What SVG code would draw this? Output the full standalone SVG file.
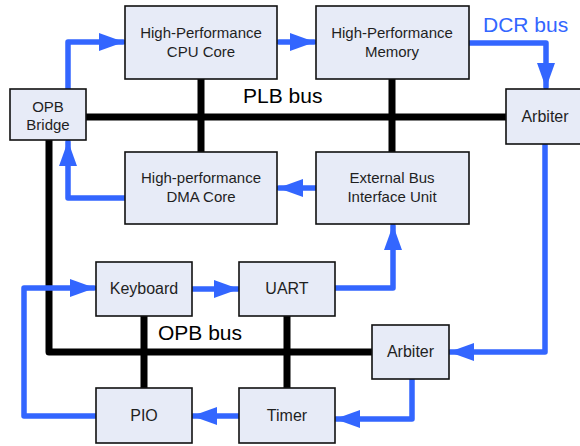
<svg xmlns="http://www.w3.org/2000/svg" width="580" height="446" viewBox="0 0 580 446">
<defs>
<style>
.box{fill:#E7EBF7;stroke:#111;stroke-width:1.6}
.lbl{font-family:"Liberation Sans",Arial,sans-serif;font-size:15px;fill:#1f1f1f;text-anchor:middle}
.one{font-size:16px}
.bus{stroke:#000;stroke-width:7;fill:none;stroke-linecap:round;stroke-linejoin:round}
.ar{stroke:#3366FF;stroke-width:5.5;fill:none;stroke-linejoin:round;stroke-linecap:round}
.big{font-family:"Liberation Sans",Arial,sans-serif;font-size:21px}
</style>
<marker id="ah" viewBox="0 0 25 18" refX="24" refY="9" markerWidth="25" markerHeight="18" markerUnits="userSpaceOnUse" orient="auto">
<path d="M0,0 L25,9 L0,18 Z" fill="#3366FF"/>
</marker>
</defs>
<g id="connectors">
<polyline class="bus" points="49,140 49,352 372,352"/>
<line class="bus" x1="85" y1="117" x2="507" y2="117"/>
<line class="bus" x1="201" y1="79" x2="201" y2="153"/>
<line class="bus" x1="392" y1="79" x2="392" y2="153"/>
<line class="bus" x1="144" y1="316" x2="144" y2="388"/>
<line class="bus" x1="287" y1="316" x2="287" y2="388"/>
<polyline class="ar" points="68,91 68,42 123,42" marker-end="url(#ah)"/>
<polyline class="ar" points="279,42 314,42" marker-end="url(#ah)"/>
<polyline class="ar" points="467,43 546,43 546,87" marker-end="url(#ah)"/>
<polyline class="ar" points="316,188 279,188" marker-end="url(#ah)"/>
<polyline class="ar" points="127,198 68,198 68,142" marker-end="url(#ah)"/>
<polyline class="ar" points="545,145 545,352 450,352" marker-end="url(#ah)"/>
<polyline class="ar" points="412,380 412,419 336,419" marker-end="url(#ah)"/>
<polyline class="ar" points="239,416 193,416" marker-end="url(#ah)"/>
<polyline class="ar" points="96,416 24,416 24,288 94,288" marker-end="url(#ah)"/>
<polyline class="ar" points="190,289 238,289" marker-end="url(#ah)"/>
<polyline class="ar" points="333,288 393,288 393,226" marker-end="url(#ah)"/>
</g>
<g id="cpu"><rect class="box" x="125" y="6" width="152" height="73"/><text class="lbl" x="201" y="38">High-Performance</text><text class="lbl" x="201" y="57">CPU Core</text></g>
<g id="memory"><rect class="box" x="316" y="6" width="153" height="73"/><text class="lbl" x="392" y="38">High-Performance</text><text class="lbl" x="392" y="57">Memory</text></g>
<g id="bridge"><rect class="box" x="10" y="89" width="76" height="51"/><text class="lbl" x="48" y="112">OPB</text><text class="lbl" x="48" y="130">Bridge</text></g>
<g id="dma"><rect class="box" x="125" y="152" width="152" height="72"/><text class="lbl" x="201" y="183">High-performance</text><text class="lbl" x="201" y="202">DMA Core</text></g>
<g id="ebiu"><rect class="box" x="316" y="152" width="153" height="72"/><text class="lbl" x="392" y="183">External Bus</text><text class="lbl" x="392" y="202">Interface Unit</text></g>
<g id="plb-arbiter"><rect class="box" x="506" y="89" width="80" height="55"/><text class="lbl one" x="545" y="122">Arbiter</text></g>
<g id="keyboard"><rect class="box" x="96" y="262" width="96" height="54"/><text class="lbl one" x="144" y="294">Keyboard</text></g>
<g id="uart"><rect class="box" x="239" y="262" width="96" height="54"/><text class="lbl one" x="287" y="294">UART</text></g>
<g id="opb-arbiter"><rect class="box" x="372" y="325" width="77" height="54"/><text class="lbl one" x="410.5" y="357">Arbiter</text></g>
<g id="pio"><rect class="box" x="96" y="388" width="96" height="55"/><text class="lbl one" x="144" y="421">PIO</text></g>
<g id="timer"><rect class="box" x="239" y="388" width="96" height="55"/><text class="lbl one" x="287" y="421">Timer</text></g>
<text class="big" x="483" y="32" fill="#3366FF">DCR bus</text>
<text class="big" x="243" y="103" fill="#000">PLB bus</text>
<text class="big" x="158" y="340" fill="#000">OPB bus</text>
</svg>
